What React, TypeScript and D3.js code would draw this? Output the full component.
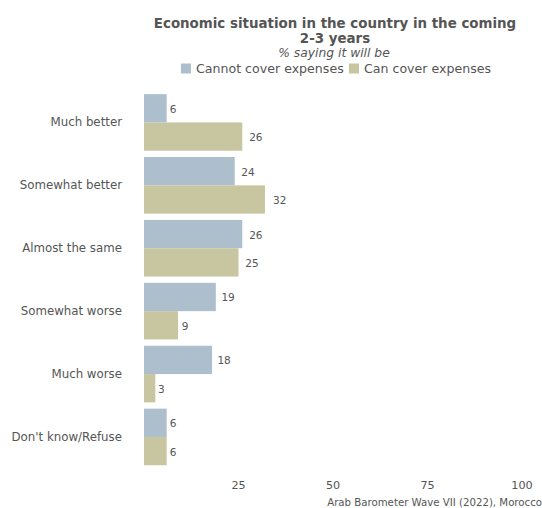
import React from "react";
import * as d3 from "d3";

const categories = ["Much better", "Somewhat better", "Almost the same", "Somewhat worse", "Much worse", "Don't know/Refuse"];
const seriesNames = ["Cannot cover expenses", "Can cover expenses"];
const cannotCover = [6, 24, 26, 19, 18, 6];
const canCover = [26, 32, 25, 9, 3, 6];
const tickValues = [25, 50, 75, 100];
const colors = ["#adbfcc", "#c8c6a0"];

const W = 542;
const H = 508;
const FONT = "'DejaVu Sans', sans-serif";
const TXT = "#555555";

export default function App() {
  const x = d3.scaleLinear().domain([0, 100]).range([144, 522]);
  const y = d3.scaleBand<string>().domain(categories).range([91, 468.4]).paddingInner(0.1).paddingOuter(0.05);
  const sub = d3.scaleBand<string>().domain(seriesNames).range([0, y.bandwidth()]);
  const series = [cannotCover, canCover];

  return (
    <svg width={W} height={H} style={{ position: "absolute", left: 0, top: 0, background: "#fff" }} fontFamily={FONT}>
      <text x={335} y={28} textAnchor="middle" fontSize={13.4} fontWeight={700} fill={TXT}>
        Economic situation in the country in the coming
      </text>
      <text x={335} y={43} textAnchor="middle" fontSize={13.4} fontWeight={700} fill={TXT}>
        2-3 years
      </text>
      <text x={334} y={57} textAnchor="middle" fontSize={12.3} fontStyle="italic" fill={TXT}>
        % saying it will be
      </text>
      {seriesNames.map((s, i) => {
        const lx = i === 0 ? 181 : 349;
        return (
          <g key={s}>
            <rect x={lx} y={63.5} width={10} height={10} fill={colors[i]} />
            <text x={lx + 15} y={73} fontSize={12.6} fill={TXT}>{s}</text>
          </g>
        );
      })}
      {categories.map((c, ci) => {
        const y0 = y(c)!;
        return (
          <g key={c}>
            <text x={122} y={y0 + y.bandwidth() / 2 + 4} textAnchor="end" fontSize={11.8} fill={TXT}>{c}</text>
            {series.map((vals, si) => {
              const by = y0 + sub(seriesNames[si])!;
              return (
                <g key={si}>
                  <rect x={x(0)} y={by} width={x(vals[ci]) - x(0)} height={sub.bandwidth()} fill={colors[si]} />
                  <text x={x(vals[ci] * 1.05) + 2} y={by + sub.bandwidth() / 2 + 4.5} fontSize={10.5} fill={TXT}>{vals[ci]}</text>
                </g>
              );
            })}
          </g>
        );
      })}
      {tickValues.map((t) => (
        <text key={t} x={x(t)} y={489} textAnchor="middle" fontSize={11.2} fill={TXT}>{t}</text>
      ))}
      <text x={542} y={506} textAnchor="end" fontSize={10.2} fill={TXT}>Arab Barometer Wave VII (2022), Morocco</text>
    </svg>
  );
}
